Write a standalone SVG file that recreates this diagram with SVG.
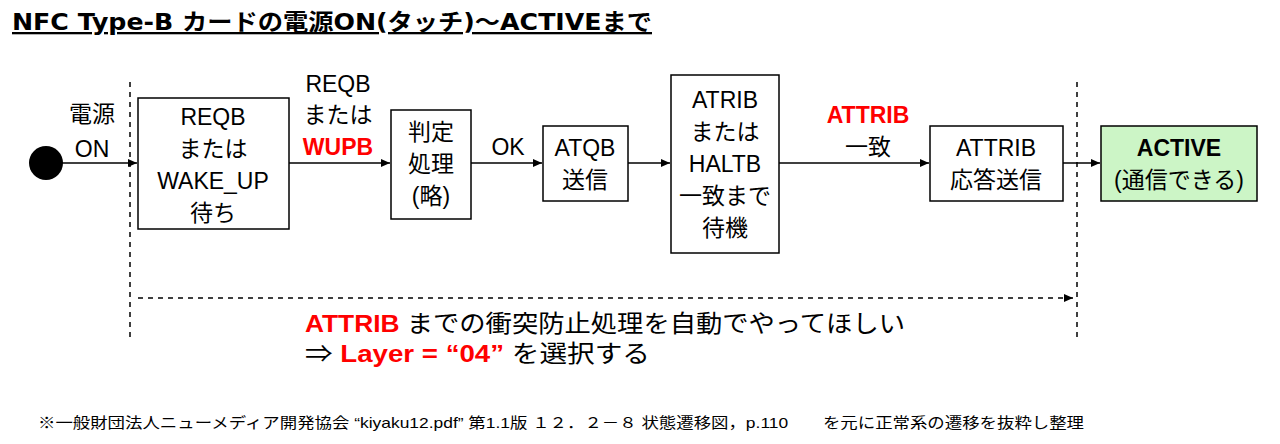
<svg xmlns="http://www.w3.org/2000/svg" width="1280" height="444" viewBox="0 0 1280 444">
<style>
text{font-family:"Liberation Sans","Noto Sans CJK JP",sans-serif;fill:#000;}
.t{font-size:23px;text-anchor:middle;}
.r{fill:#ff0000;font-weight:bold;}
.box{fill:#fff;stroke:#000;stroke-width:1.5;}
.ln{stroke:#000;stroke-width:1.5;fill:none;}
.dash{stroke:#000;stroke-width:1.5;stroke-dasharray:5,5;fill:none;}
</style>
<defs>
<marker id="a" markerWidth="10" markerHeight="10" refX="9" refY="5" orient="auto" markerUnits="userSpaceOnUse"><path d="M0,1 L9,5 L0,9 z" fill="#000"/></marker>
</defs>
<rect width="1280" height="444" fill="#fff"/>
<text x="12" y="30" textLength="640" lengthAdjust="spacingAndGlyphs" style="font-family:'DejaVu Sans','Noto Sans CJK JP',sans-serif;font-size:23px;font-weight:bold;text-decoration:underline">NFC Type-B カードの電源ON(タッチ)～ACTIVEまで</text>
<g id="connectors">
<line class="dash" x1="130" y1="82" x2="130" y2="342"/>
<line class="dash" x1="1077" y1="82" x2="1077" y2="342"/>
<line class="ln" x1="60" y1="163" x2="137" y2="163" marker-end="url(#a)"/>
<line class="ln" x1="289" y1="163" x2="390" y2="163" marker-end="url(#a)"/>
<line class="ln" x1="471" y1="163" x2="542" y2="163" marker-end="url(#a)"/>
<line class="ln" x1="628" y1="163" x2="670" y2="163" marker-end="url(#a)"/>
<line class="ln" x1="779" y1="163" x2="929" y2="163" marker-end="url(#a)"/>
<line class="ln" x1="1063" y1="163" x2="1100" y2="163" marker-end="url(#a)"/>
<line class="dash" x1="138" y1="298" x2="1073" y2="298" marker-end="url(#a)"/>
<text class="t" x="92" y="122">電源</text><text class="t" x="92" y="157">ON</text>
<text class="t" x="338" y="92">REQB</text><text class="t" x="338" y="123">または</text>
<text class="t r" x="338" y="155">WUPB</text>
<text class="t" x="508" y="155">OK</text>
<text class="t r" x="868" y="123">ATTRIB</text><text class="t" x="868" y="155">一致</text>
</g>
<g id="start"><circle cx="46" cy="163" r="17" fill="#000"/></g>
<g id="n1"><rect class="box" x="138" y="98" width="151" height="131"/>
<text class="t" x="213" y="125">REQB</text><text class="t" x="213" y="157">または</text><text class="t" x="213" y="189">WAKE_UP</text><text class="t" x="213" y="221">待ち</text></g>
<g id="n2"><rect class="box" x="391" y="110" width="80" height="109"/>
<text class="t" x="431" y="140">判定</text><text class="t" x="431" y="172">処理</text><text class="t" x="431" y="204">(略)</text></g>
<g id="n3"><rect class="box" x="543" y="126" width="85" height="75"/>
<text class="t" x="585" y="156">ATQB</text><text class="t" x="585" y="188">送信</text></g>
<g id="n4"><rect class="box" x="671" y="75" width="108" height="178"/>
<text class="t" x="725" y="108">ATRIB</text><text class="t" x="725" y="140">または</text><text class="t" x="725" y="172">HALTB</text><text class="t" x="725" y="204">一致まで</text><text class="t" x="725" y="236">待機</text></g>
<g id="n5"><rect class="box" x="930" y="126" width="133" height="75"/>
<text class="t" x="996" y="156">ATTRIB</text><text class="t" x="996" y="188">応答送信</text></g>
<g id="n6"><rect class="box" x="1101" y="126" width="156" height="75" style="fill:#ccf5c6"/>
<text class="t" x="1179" y="156" font-weight="bold">ACTIVE</text><text class="t" x="1179" y="188">(通信できる)</text></g>
<text x="305" y="332" font-size="24" textLength="600" lengthAdjust="spacingAndGlyphs"><tspan class="r">ATTRIB</tspan> までの衝突防止処理を自動でやってほしい</text>
<text x="305" y="362" font-size="24" textLength="345" lengthAdjust="spacingAndGlyphs">⇒ <tspan class="r">Layer = “04”</tspan> を選択する</text>
<text x="38" y="428" font-size="15" textLength="1046" lengthAdjust="spacingAndGlyphs">※一般財団法人ニューメディア開発協会 “kiyaku12.pdf” 第1.1版 １２．２－８ 状態遷移図，p.110　　を元に正常系の遷移を抜粋し整理</text>
</svg>
